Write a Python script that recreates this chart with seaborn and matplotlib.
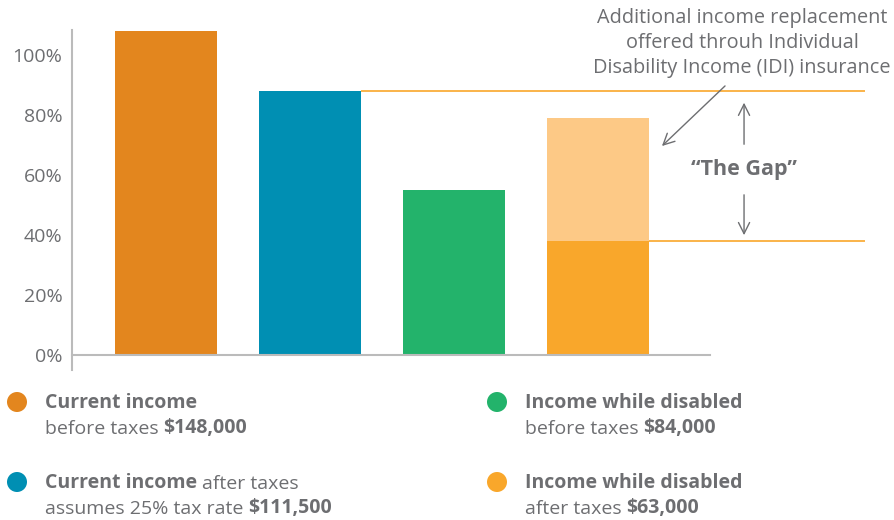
import matplotlib
matplotlib.use("Agg")
import matplotlib.pyplot as plt
import seaborn as sns
import pandas as pd
from matplotlib.patches import Circle

# ---- data ----
categories = ["Current income before taxes", "Current income after taxes",
              "Income while disabled before taxes", "Income while disabled after taxes"]
values = [108, 88, 55, 79]          # total bar height (% of income)
idi_base = 38                       # after-tax disabled income (dark part of last bar)
bar_colors = ["#E3861E", "#008FB3", "#23B36B", "#FDC986"]
base_color = "#F9A72B"
yticks = [0, 20, 40, 60, 80, 100]
ytick_labels = ["0%", "20%", "40%", "60%", "80%", "100%"]

legend_items = [
    ("#E3861E", [("Current income", True)], [("before taxes", False), ("$148,000", True)]),
    ("#008FB3", [("Current income", True), ("after taxes", False)],
     [("assumes 25% tax rate", False), ("$111,500", True)]),
    ("#23B36B", [("Income while disabled", True)], [("before taxes", False), ("$84,000", True)]),
    ("#F9A72B", [("Income while disabled", True)], [("after taxes", False), ("$63,000", True)]),
]
annot_text = "Additional income replacement\noffered throuh Individual\nDisability Income (IDI) insurance"
gap_label = "\u201cThe Gap\u201d"

sns.set_style("white")
plt.rcParams["font.family"] = ["Open Sans", "DejaVu Sans"]
TXT = "#6D6E71"
AX = "#BBBBBB"
FS = 14

W, H = 894, 520
fig = plt.figure(figsize=(W / 100, H / 100), dpi=100)
ax = fig.add_axes([72 / W, 1 - 370 / H, (865 - 72) / W, (370 - 30) / H])

df = pd.DataFrame({"cat": categories, "val": values})
bw = 0.71
sns.barplot(data=df, x="cat", y="val", hue="cat", palette=bar_colors, order=categories,
            width=bw, legend=False, ax=ax, saturation=1)
df2 = pd.DataFrame({"cat": [categories[3]], "val": [idi_base]})
sns.barplot(data=df2, x="cat", y="val", color=base_color, order=categories,
            width=bw, ax=ax, saturation=1)
for p in ax.patches:
    p.set_linewidth(0)

xmax = 4.854
ax.set_xlim(-0.653, xmax)
ax.set_ylim(-5, 108.3)

# gap reference lines
ax.hlines(values[1], 1 + bw / 2, xmax, color=base_color, lw=1.2, clip_on=False)
ax.hlines(idi_base, 3 + bw / 2, xmax, color=base_color, lw=1.2, clip_on=False)

# spines & ticks
for s in ["top", "right"]:
    ax.spines[s].set_visible(False)
ax.spines["left"].set_color(AX)
ax.spines["left"].set_linewidth(1.5)
ax.spines["bottom"].set_color(AX)
ax.spines["bottom"].set_linewidth(1.5)
ax.spines["bottom"].set_position(("data", 0))
ax.spines["bottom"].set_bounds(-0.653, 3.78)
ax.set_yticks(yticks)
ax.set_yticklabels(ytick_labels)
ax.tick_params(axis="y", length=0, pad=7, labelsize=FS, labelcolor=TXT)
ax.set_xticks(range(len(categories)))
ax.set_xticklabels([""] * len(categories))
ax.tick_params(axis="x", length=11, width=1.2, color=AX, direction="out")
ax.set_xlabel("")
ax.set_ylabel("")

# gap arrows
gx = 4.014
arrow_kw = dict(arrowstyle="->,head_length=0.8,head_width=0.4", color="#6D6E71", lw=1.0)
ax.annotate("", xy=(gx, 85), xytext=(gx, 69.3), arrowprops=arrow_kw)
ax.annotate("", xy=(gx, 39), xytext=(gx, 54.3), arrowprops=arrow_kw)
ax.text(gx, 61.8, gap_label, ha="center", va="center", fontsize=15.5,
        fontweight="bold", color=TXT)
ax.annotate("", xy=(3.43, 69), xytext=(3.896, 90.3), arrowprops=arrow_kw)

# overlay in pixel coordinates for annotation text & legend
ov = fig.add_axes([0, 0, 1, 1])
ov.set_xlim(0, W)
ov.set_ylim(H, 0)
ov.axis("off")
ov.patch.set_alpha(0)

ov.text(742, 8, annot_text, ha="center", va="top", fontsize=14.3, color=TXT,
        linespacing=1.32, multialignment="center")

def run_line(x, y, parts, size=FS):
    prev = None
    for txt, bold in parts:
        fw = "bold" if bold else "normal"
        if prev is None:
            prev = ov.text(x, y, txt, ha="left", va="baseline", fontsize=size,
                           fontweight=fw, color=TXT)
        else:
            prev = ov.annotate(txt, xy=(1, 0), xycoords=prev, xytext=(3.5, 0),
                               textcoords="offset points", ha="left", va="bottom",
                               fontsize=size, fontweight=fw, color=TXT)

positions = [(17, 402, 45), (17, 482, 45), (497, 402, 525), (497, 482, 525)]
for (color, l1, l2), (cx, cy, tx) in zip(legend_items, positions):
    ov.add_patch(Circle((cx, cy), 10, color=color, lw=0))
    run_line(tx, cy + 6, l1)
    run_line(tx, cy + 32, l2)

fig.savefig("out.png", dpi=100)
